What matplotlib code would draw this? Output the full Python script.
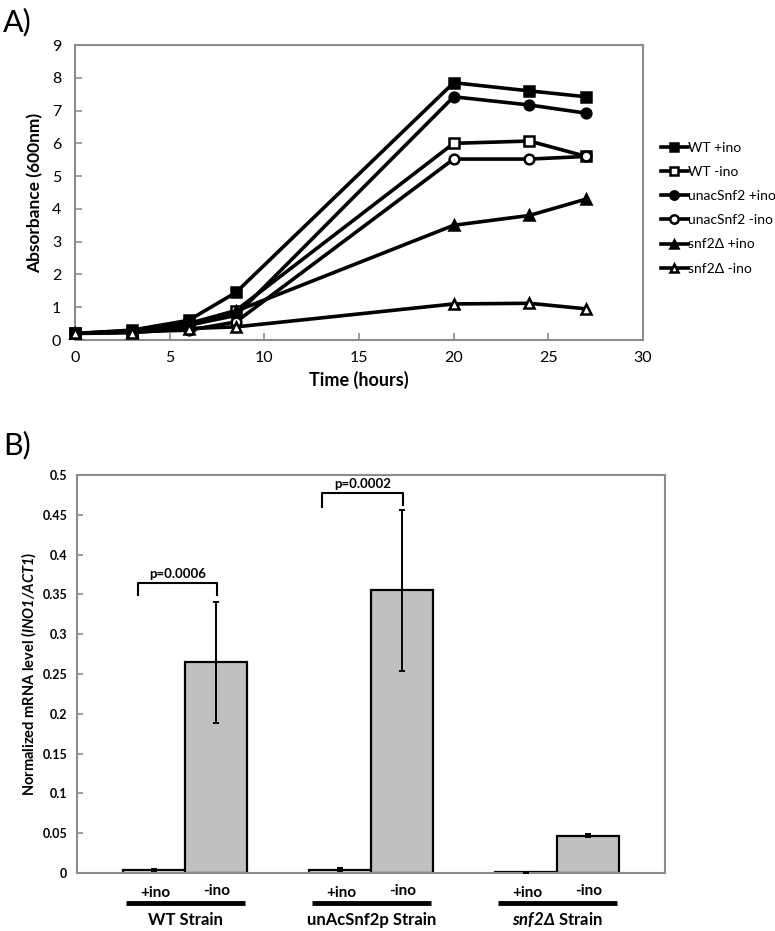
import matplotlib
matplotlib.use("Agg")
import matplotlib.pyplot as plt
import numpy as np

plt.rcParams['font.family'] = ['Lato', 'DejaVu Sans']
plt.rcParams['mathtext.fontset'] = 'custom'
plt.rcParams['mathtext.rm'] = 'Lato:bold'
plt.rcParams['mathtext.bf'] = 'Lato:bold'
plt.rcParams['mathtext.it'] = 'Lato:italic:bold'
plt.rcParams['mathtext.bfit'] = 'Lato:italic:bold'

# ---------------- Data: panel A (growth curves) ----------------
time_h = [0, 3, 6, 8.5, 20, 24, 27]
wt_plus = [0.2, 0.3, 0.6, 1.45, 7.85, 7.6, 7.42]
wt_minus = [0.2, 0.25, 0.5, 0.9, 6.0, 6.07, 5.6]
unac_plus = [0.2, 0.28, 0.45, 0.75, 7.42, 7.17, 6.92]
unac_minus = [0.2, 0.25, 0.3, 0.55, 5.52, 5.52, 5.6]
snf2_plus = [0.2, 0.25, 0.45, 0.88, 3.5, 3.8, 4.3]
snf2_minus = [0.2, 0.22, 0.35, 0.4, 1.1, 1.12, 0.95]
series_labels = ["WT +ino", "WT -ino", "unacSnf2 +ino", "unacSnf2 -ino",
                 "snf2\u0394 +ino", "snf2\u0394 -ino"]

# ---------------- Data: panel B (INO1 mRNA) ----------------
strains = ["WT Strain", "unAcSnf2p Strain", r"$\mathbfit{snf2\Delta}$ Strain"]
conditions = ["+ino", "-ino"]
plus_vals = [0.004, 0.004, 0.001]
plus_err = [0.001, 0.002, 0.0005]
minus_vals = [0.265, 0.355, 0.047]
minus_err = [0.076, 0.1015, 0.0015]
pvals = ["p=0.0006", "p=0.0002"]

W, H = 775, 931
fig = plt.figure(figsize=(W / 100, H / 100), dpi=100)

def px_axes(l, t, r, b):
    return fig.add_axes([l / W, 1 - b / H, (r - l) / W, (b - t) / H])

frame_col = '#8c8c8c'

# ---------------- Panel A ----------------
axA = px_axes(75, 45, 643, 340)
styles = [
    dict(marker='s', mfc='black'),
    dict(marker='s', mfc='white'),
    dict(marker='o', mfc='black'),
    dict(marker='o', mfc='white'),
    dict(marker='^', mfc='black'),
    dict(marker='^', mfc='white'),
]
data = [wt_plus, wt_minus, unac_plus, unac_minus, snf2_plus, snf2_minus]
handles = []
for y, st, lab in zip(data, styles, series_labels):
    ln, = axA.plot(time_h, y, color='black', lw=2.6, marker=st['marker'],
                   markersize=7, markerfacecolor=st['mfc'],
                   markeredgecolor='black', markeredgewidth=1.8, label=lab,
                   clip_on=False, zorder=3)
    handles.append(ln)
axA.set_xlim(0, 30)
axA.set_ylim(0, 9)
axA.set_xticks(range(0, 31, 5))
axA.set_yticks(range(0, 10))
for sp in axA.spines.values():
    sp.set_color(frame_col)
    sp.set_linewidth(1.5)
axA.tick_params(direction='in', length=5, width=1.2, color=frame_col,
                labelsize=11.5, pad=8)
axA.tick_params(axis='y', pad=10)
axA.set_xlabel("Time (hours)", fontsize=13, fontweight='bold', labelpad=4)
axA.set_ylabel("Absorbance (600nm)", fontsize=12.5, fontweight='bold', labelpad=6)

leg = fig.legend(handles=handles, loc='upper left',
                 bbox_to_anchor=(655 / W, 1 - 136 / H), frameon=False,
                 fontsize=10, handlelength=2.0, handletextpad=0.0,
                 labelspacing=0.88, borderaxespad=0)
for h in leg.legend_handles:
    h.set_markersize(6)
    h.set_linewidth(2.6)

fig.text(3 / W, 1 - 22 / H, "A)", fontsize=22, va='center', ha='left')
fig.text(3 / W, 1 - 445 / H, "B)", fontsize=22, va='center', ha='left')

# ---------------- Panel B ----------------
axB = px_axes(77, 475, 665, 873)
centers = np.arange(1, len(strains) + 1)
bw = 0.333
axB.bar(centers - bw / 2, plus_vals, width=bw, color='white',
        edgecolor='black', linewidth=1.6, zorder=2)
axB.bar(centers + bw / 2, minus_vals, width=bw, color='#c0c0c0',
        edgecolor='black', linewidth=1.6, zorder=2)
axB.errorbar(centers - bw / 2, plus_vals, yerr=plus_err, fmt='none',
             ecolor='black', elinewidth=1.4, capsize=2.5, capthick=1.4, zorder=3)
axB.errorbar(centers + bw / 2, minus_vals, yerr=minus_err, fmt='none',
             ecolor='black', elinewidth=1.4, capsize=2.5, capthick=1.4, zorder=3)
axB.set_xlim(0.417, 3.58)
axB.set_ylim(0, 0.5)
axB.set_yticks(np.arange(0, 0.501, 0.05))
axB.set_yticklabels(["0", "0.05", "0.1", "0.15", "0.2", "0.25", "0.3",
                     "0.35", "0.4", "0.45", "0.5"], fontweight='bold')
axB.set_xticks([])
for sp in axB.spines.values():
    sp.set_color(frame_col)
    sp.set_linewidth(1.5)
axB.tick_params(axis='y', direction='in', length=4, width=1.2,
                color=frame_col, labelsize=9, pad=7)
axB.set_ylabel(r"Normalized mRNA level ($\mathbfit{INO1/ACT1}$)",
               fontsize=10.5, fontweight='bold', labelpad=3)

# significance brackets
brackets = [(0.745, 1.169, 0.364, 0.349, 0.349),
            (1.737, 2.169, 0.477, 0.460, 0.462)]
for (x0, x1, top, yl, yr), p in zip(brackets, pvals):
    axB.plot([x0, x0, x1, x1], [yl, top, top, yr], color='black', lw=1.5,
             clip_on=False, zorder=4)
    axB.text((x0 + x1) / 2, top + 0.004, p, ha='center', va='bottom',
             fontsize=9.5, fontweight='bold')

# category labels under the axis
tr = axB.get_xaxis_transform()
for c, s in zip(centers, strains):
    axB.text(c - bw / 2 + 0.005, -0.049, conditions[0], transform=tr,
             ha='center', va='center', fontsize=11, fontweight='bold')
    axB.text(c + bw / 2, -0.045, conditions[1], transform=tr,
             ha='center', va='center', fontsize=11, fontweight='bold')
    axB.plot([c - 0.32, c + 0.32], [-0.075, -0.075], transform=tr,
             color='black', lw=3.5, clip_on=False, solid_capstyle='butt')
    axB.text(c, -0.118, s, transform=tr, ha='center', va='center',
             fontsize=12, fontweight='bold')

fig.savefig("out.png", dpi=100)
